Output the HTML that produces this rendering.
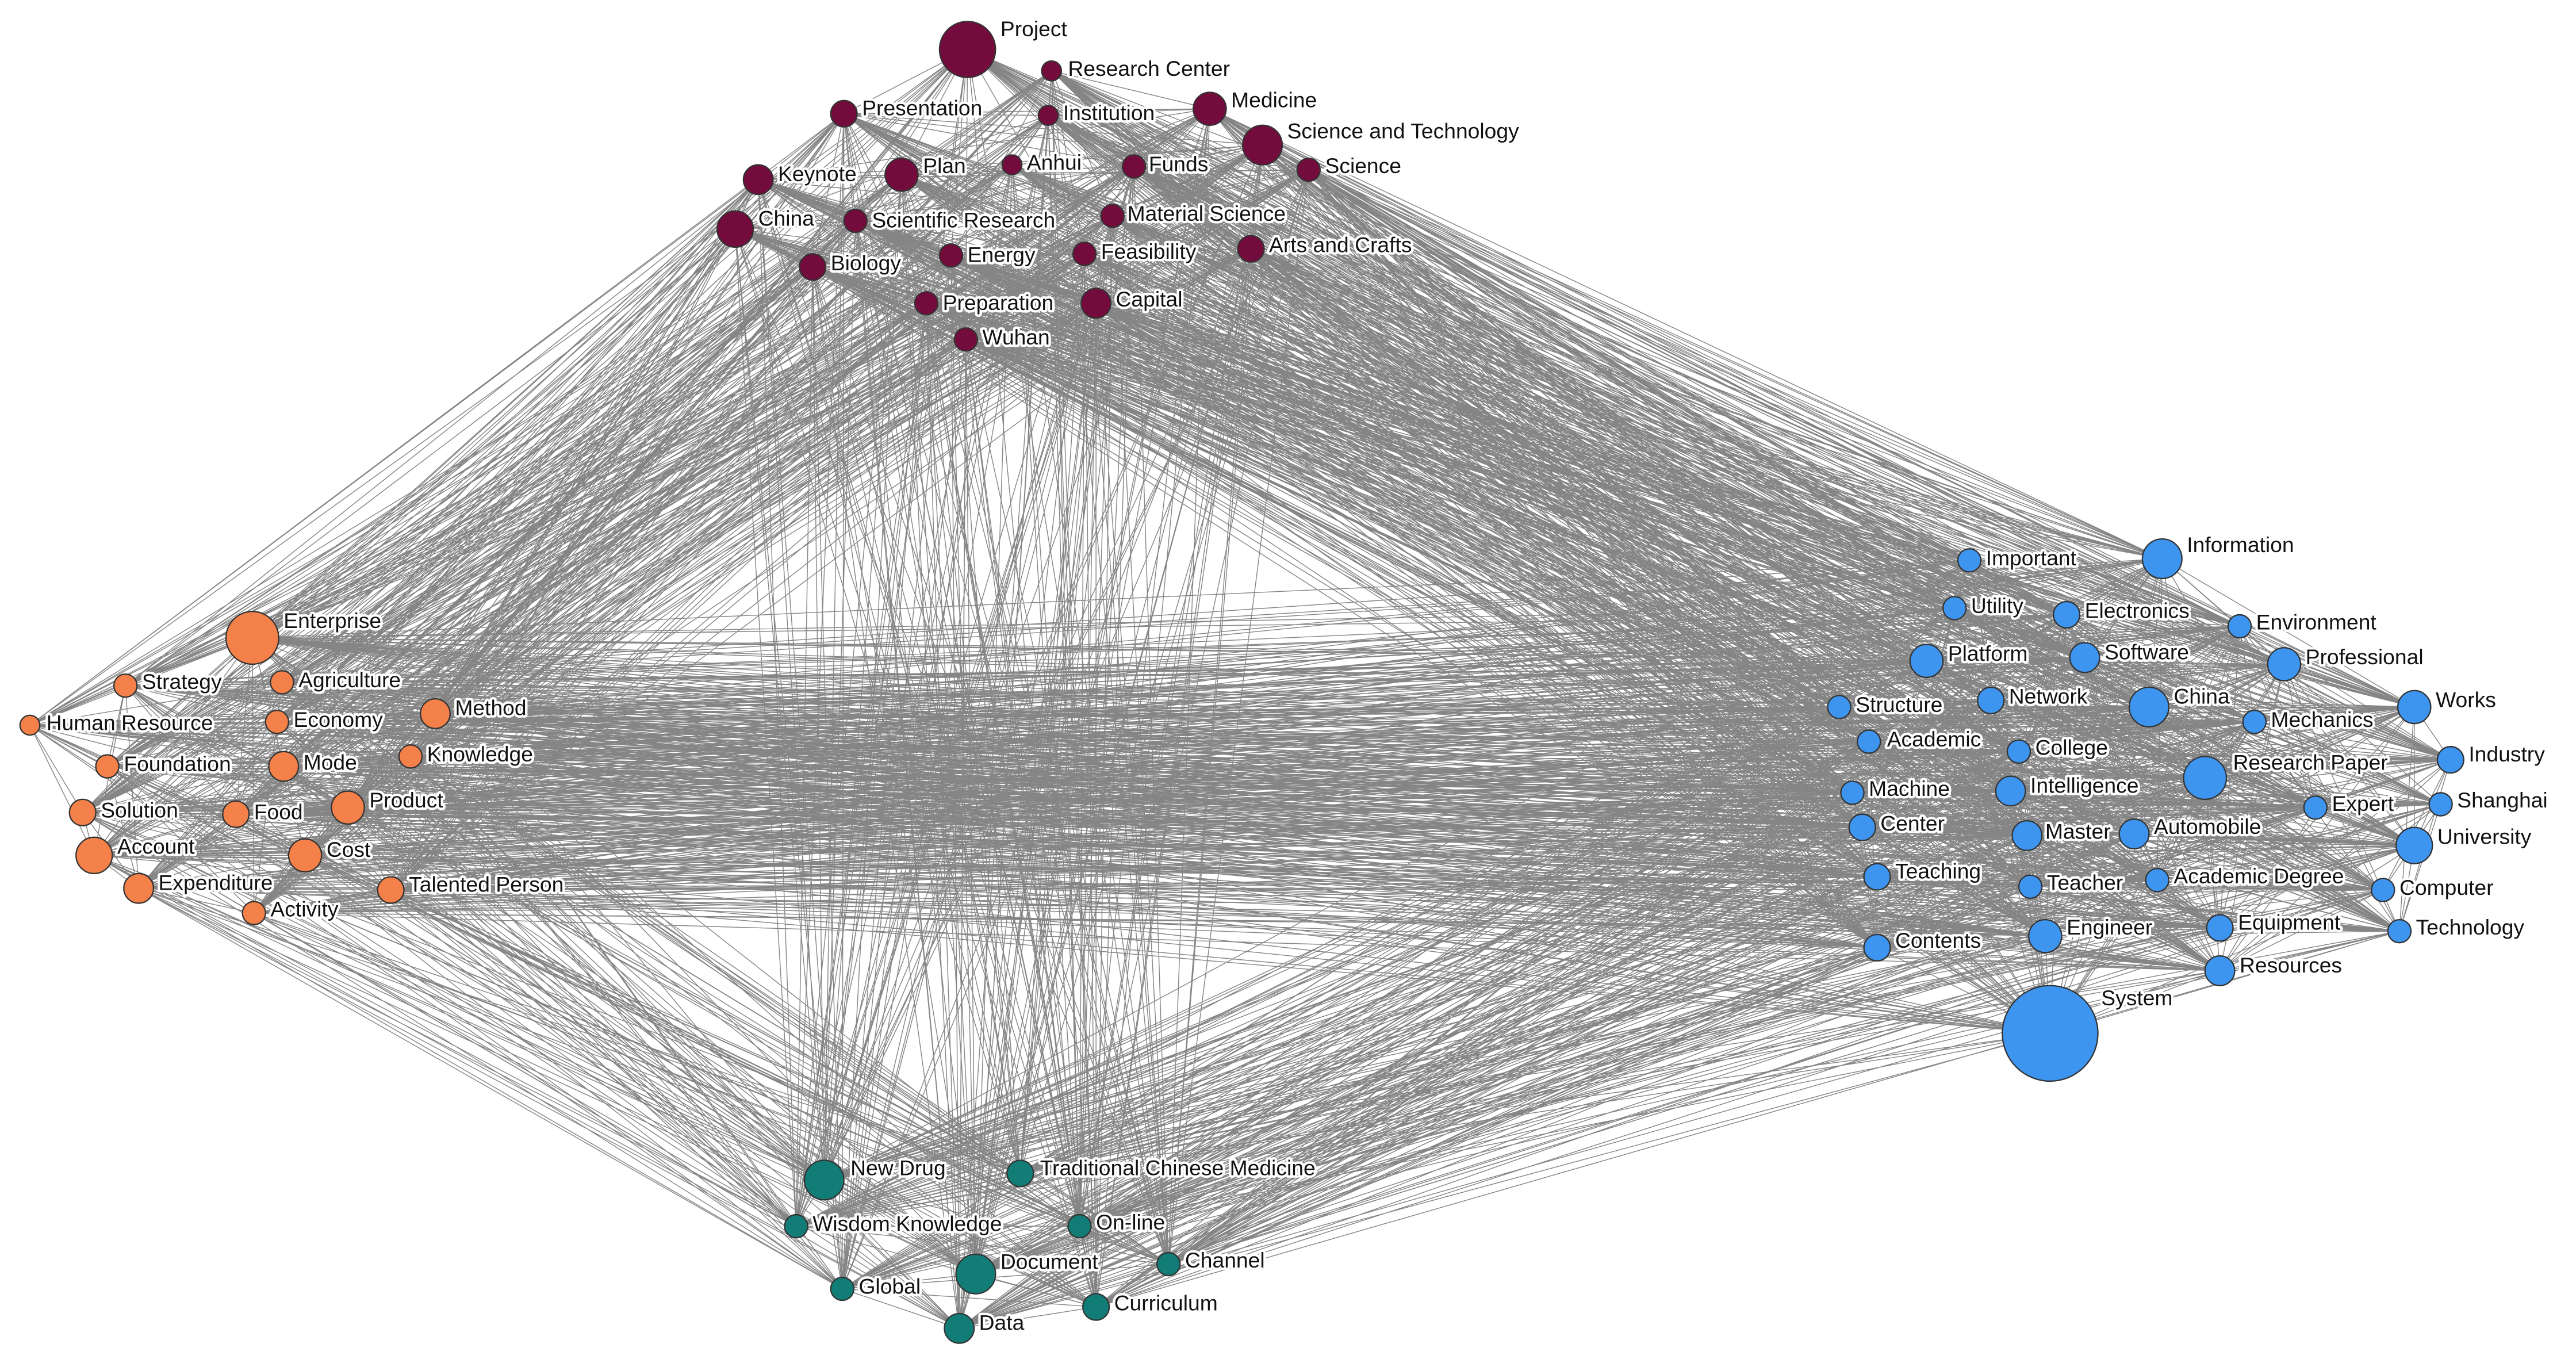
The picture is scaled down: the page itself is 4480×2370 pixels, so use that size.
<!DOCTYPE html>
<html><head><meta charset="utf-8">
<style>
html,body{margin:0;padding:0;background:#fff;}
svg{display:block;}
text{font-family:"Liberation Sans","DejaVu Sans",sans-serif;font-size:13px;fill:#111;paint-order:stroke;stroke:#fff;stroke-width:3px;stroke-linejoin:round;}
circle{stroke:#333;stroke-width:0.8;}
.p{fill:#730c3c}.o{fill:#f4814a}.t{fill:#127c76}.b{fill:#3d95f0}
</style></head>
<body>
<svg id="s" width="4480" height="2370" viewBox="0 0 1563 827" xmlns="http://www.w3.org/2000/svg">
<rect width="1563" height="827" fill="#fff"/>
<g id="edges" stroke="#707070" stroke-width="0.5" stroke-opacity="0.85" fill="none"></g>
<g id="nodes">
<circle class="p" cx="587" cy="30" r="17"/><circle class="p" cx="638" cy="43" r="6"/><circle class="p" cx="512" cy="69" r="8"/><circle class="p" cx="636" cy="70" r="6"/><circle class="p" cx="734" cy="66" r="10"/><circle class="p" cx="766" cy="88" r="12"/><circle class="p" cx="460" cy="109" r="9"/><circle class="p" cx="547" cy="106" r="10"/><circle class="p" cx="614" cy="100" r="6"/><circle class="p" cx="688" cy="101" r="7"/><circle class="p" cx="794" cy="103" r="7"/><circle class="p" cx="446" cy="139" r="11"/><circle class="p" cx="519" cy="134" r="7"/><circle class="p" cx="675" cy="131" r="7"/><circle class="p" cx="493" cy="162" r="8"/><circle class="p" cx="577" cy="155" r="7"/><circle class="p" cx="658" cy="154" r="7"/><circle class="p" cx="759" cy="151" r="8"/><circle class="p" cx="562" cy="184" r="7"/><circle class="p" cx="665" cy="184" r="9"/><circle class="p" cx="586" cy="206" r="7"/>
<circle class="o" cx="153" cy="387" r="16"/><circle class="o" cx="76" cy="416" r="7"/><circle class="o" cx="171" cy="414" r="7"/><circle class="o" cx="18" cy="440" r="6"/><circle class="o" cx="168" cy="438" r="7"/><circle class="o" cx="264" cy="433" r="9"/><circle class="o" cx="65" cy="465" r="7"/><circle class="o" cx="172" cy="465" r="9"/><circle class="o" cx="249" cy="459" r="7"/><circle class="o" cx="50" cy="493" r="8"/><circle class="o" cx="143" cy="494" r="8"/><circle class="o" cx="211" cy="490" r="10"/><circle class="o" cx="57" cy="519" r="11"/><circle class="o" cx="185" cy="519" r="10"/><circle class="o" cx="84" cy="539" r="9"/><circle class="o" cx="154" cy="554" r="7"/><circle class="o" cx="237" cy="540" r="8"/>
<circle class="t" cx="500" cy="716" r="12"/><circle class="t" cx="619" cy="712" r="8"/><circle class="t" cx="483" cy="744" r="7"/><circle class="t" cx="655" cy="744" r="7"/><circle class="t" cx="511" cy="782" r="7"/><circle class="t" cx="592" cy="773" r="12"/><circle class="t" cx="709" cy="767" r="7"/><circle class="t" cx="582" cy="806" r="9"/><circle class="t" cx="665" cy="793" r="8"/>
<circle class="b" cx="1195" cy="340" r="7"/><circle class="b" cx="1312" cy="339" r="12"/><circle class="b" cx="1186" cy="369" r="7"/><circle class="b" cx="1254" cy="373" r="8"/><circle class="b" cx="1359" cy="380" r="7"/><circle class="b" cx="1169" cy="401" r="10"/><circle class="b" cx="1265" cy="399" r="9"/><circle class="b" cx="1386" cy="403" r="10"/><circle class="b" cx="1116" cy="429" r="7"/><circle class="b" cx="1208" cy="425" r="8"/><circle class="b" cx="1304" cy="429" r="12"/><circle class="b" cx="1368" cy="438" r="7"/><circle class="b" cx="1465" cy="429" r="10"/><circle class="b" cx="1134" cy="450" r="7"/><circle class="b" cx="1225" cy="456" r="7"/><circle class="b" cx="1338" cy="472" r="13"/><circle class="b" cx="1487" cy="461" r="8"/><circle class="b" cx="1124" cy="481" r="7"/><circle class="b" cx="1220" cy="480" r="9"/><circle class="b" cx="1405" cy="490" r="7"/><circle class="b" cx="1481" cy="488" r="7"/><circle class="b" cx="1130" cy="502" r="8"/><circle class="b" cx="1230" cy="507" r="9"/><circle class="b" cx="1295" cy="506" r="9"/><circle class="b" cx="1465" cy="513" r="11"/><circle class="b" cx="1139" cy="532" r="8"/><circle class="b" cx="1232" cy="538" r="7"/><circle class="b" cx="1309" cy="534" r="7"/><circle class="b" cx="1446" cy="540" r="7"/><circle class="b" cx="1139" cy="575" r="8"/><circle class="b" cx="1241" cy="568" r="10"/><circle class="b" cx="1347" cy="563" r="8"/><circle class="b" cx="1456" cy="565" r="7"/><circle class="b" cx="1347" cy="589" r="9"/><circle class="b" cx="1244" cy="627" r="29"/>
</g>
<g id="labels">
<text x="607" y="22">Project</text><text x="648" y="46">Research Center</text><text x="523" y="70">Presentation</text><text x="645" y="73">Institution</text><text x="747" y="65">Medicine</text><text x="781" y="84">Science and Technology</text><text x="472" y="110">Keynote</text><text x="560" y="105">Plan</text><text x="623" y="103">Anhui</text><text x="697" y="104">Funds</text><text x="804" y="105">Science</text><text x="460" y="137">China</text><text x="529" y="138">Scientific Research</text><text x="684" y="134">Material Science</text><text x="504" y="164">Biology</text><text x="587" y="159">Energy</text><text x="668" y="157">Feasibility</text><text x="770" y="153">Arts and Crafts</text><text x="572" y="188">Preparation</text><text x="677" y="186">Capital</text><text x="596" y="209">Wuhan</text>
<text x="172" y="381">Enterprise</text><text x="86" y="418">Strategy</text><text x="181" y="417">Agriculture</text><text x="28" y="443">Human Resource</text><text x="178" y="441">Economy</text><text x="276" y="434">Method</text><text x="75" y="468">Foundation</text><text x="184" y="467">Mode</text><text x="259" y="462">Knowledge</text><text x="61" y="496">Solution</text><text x="154" y="497">Food</text><text x="224" y="490">Product</text><text x="71" y="518">Account</text><text x="198" y="520">Cost</text><text x="96" y="540">Expenditure</text><text x="164" y="556">Activity</text><text x="248" y="541">Talented Person</text>
<text x="516" y="713">New Drug</text><text x="631" y="713">Traditional Chinese Medicine</text><text x="493" y="747">Wisdom Knowledge</text><text x="665" y="746">On-line</text><text x="521" y="785">Global</text><text x="607" y="770">Document</text><text x="719" y="769">Channel</text><text x="594" y="807">Data</text><text x="676" y="795">Curriculum</text>
<text x="1205" y="343">Important</text><text x="1327" y="335">Information</text><text x="1196" y="372">Utility</text><text x="1265" y="375">Electronics</text><text x="1369" y="382">Environment</text><text x="1182" y="401">Platform</text><text x="1277" y="400">Software</text><text x="1399" y="403">Professional</text><text x="1126" y="432">Structure</text><text x="1219" y="427">Network</text><text x="1319" y="427">China</text><text x="1378" y="441">Mechanics</text><text x="1478" y="429">Works</text><text x="1145" y="453">Academic</text><text x="1235" y="458">College</text><text x="1355" y="467">Research Paper</text><text x="1498" y="462">Industry</text><text x="1134" y="483">Machine</text><text x="1232" y="481">Intelligence</text><text x="1415" y="492">Expert</text><text x="1491" y="490">Shanghai</text><text x="1141" y="504">Center</text><text x="1241" y="509">Master</text><text x="1307" y="506">Automobile</text><text x="1479" y="512">University</text><text x="1150" y="533">Teaching</text><text x="1242" y="540">Teacher</text><text x="1319" y="536">Academic Degree</text><text x="1456" y="543">Computer</text><text x="1150" y="575">Contents</text><text x="1254" y="567">Engineer</text><text x="1358" y="564">Equipment</text><text x="1466" y="567">Technology</text><text x="1359" y="590">Resources</text><text x="1275" y="610">System</text>
</g>
</svg>
<script>
(function(){
var cs=document.querySelectorAll('#nodes circle'),g=document.getElementById('edges'),n=cs.length,P=[];
for(var i=0;i<n;i++)P.push([+cs[i].getAttribute('cx'),+cs[i].getAttribute('cy'),cs[i].getAttribute('class')]);
var seed=12345;function rnd(){seed=(seed*1103515245+12345)%2147483648;return seed/2147483648;}
var d='';
for(var i=0;i<n;i++)for(var j=i+1;j<n;j++){
 var same=P[i][2]==P[j][2];
 var pr=same?0.6:0.75;
 if(rnd()<pr)d+='M'+P[i][0]+' '+P[i][1]+'L'+P[j][0]+' '+P[j][1];
}
var p=document.createElementNS('http://www.w3.org/2000/svg','path');p.setAttribute('d',d);g.appendChild(p);
})();
</script>
</body></html>
